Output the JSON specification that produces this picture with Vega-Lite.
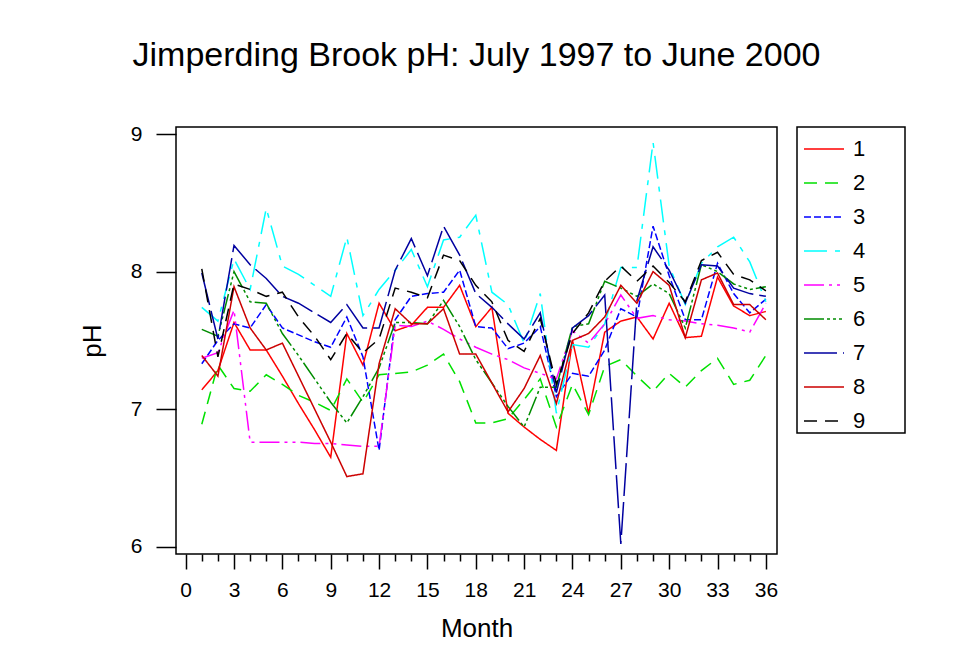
{
"$schema": "https://vega.github.io/schema/vega-lite/v6.json",
"width": 601, "height": 427,
"autosize": {"type": "none"},
"padding": {"left": 176, "top": 127, "right": 190, "bottom": 103},
"background": "white",
"title": {"text": "Jimperding Brook pH: July 1997 to June 2000", "fontSize": 34, "font": "Liberation Sans", "fontWeight": "normal", "anchor": "middle", "frame": "group", "offset": 50, "color": "black"},
"datasets": {
"ph": [
{"m":1,"s":"1","v":7.14},{"m":2,"s":"1","v":7.28},{"m":3,"s":"1","v":7.63},{"m":4,"s":"1","v":7.43},{"m":5,"s":"1","v":7.43},{"m":6,"s":"1","v":7.24},{"m":7,"s":"1","v":7.04},{"m":8,"s":"1","v":6.85},{"m":9,"s":"1","v":6.65},{"m":10,"s":"1","v":7.55},{"m":11,"s":"1","v":7.32},{"m":12,"s":"1","v":7.77},{"m":13,"s":"1","v":7.57},{"m":14,"s":"1","v":7.61},{"m":15,"s":"1","v":7.74},{"m":16,"s":"1","v":7.74},{"m":17,"s":"1","v":7.90},{"m":18,"s":"1","v":7.60},{"m":19,"s":"1","v":7.74},{"m":20,"s":"1","v":6.97},{"m":21,"s":"1","v":6.87},{"m":22,"s":"1","v":6.78},{"m":23,"s":"1","v":6.70},{"m":24,"s":"1","v":7.50},{"m":25,"s":"1","v":6.97},{"m":26,"s":"1","v":7.56},{"m":27,"s":"1","v":7.64},{"m":28,"s":"1","v":7.67},{"m":29,"s":"1","v":7.51},{"m":30,"s":"1","v":7.77},{"m":31,"s":"1","v":7.52},{"m":32,"s":"1","v":7.53},{"m":33,"s":"1","v":7.96},{"m":34,"s":"1","v":7.75},{"m":35,"s":"1","v":7.68},{"m":36,"s":"1","v":7.71},
{"m":1,"s":"2","v":6.89},{"m":2,"s":"2","v":7.32},{"m":3,"s":"2","v":7.15},{"m":4,"s":"2","v":7.13},{"m":5,"s":"2","v":7.25},{"m":6,"s":"2","v":7.18},{"m":7,"s":"2","v":7.10},{"m":8,"s":"2","v":7.05},{"m":9,"s":"2","v":6.99},{"m":10,"s":"2","v":7.22},{"m":11,"s":"2","v":7.05},{"m":12,"s":"2","v":7.25},{"m":13,"s":"2","v":7.26},{"m":14,"s":"2","v":7.27},{"m":15,"s":"2","v":7.32},{"m":16,"s":"2","v":7.40},{"m":17,"s":"2","v":7.20},{"m":18,"s":"2","v":6.90},{"m":19,"s":"2","v":6.90},{"m":20,"s":"2","v":6.93},{"m":21,"s":"2","v":7.07},{"m":22,"s":"2","v":7.22},{"m":23,"s":"2","v":6.87},{"m":24,"s":"2","v":7.18},{"m":25,"s":"2","v":6.96},{"m":26,"s":"2","v":7.31},{"m":27,"s":"2","v":7.36},{"m":28,"s":"2","v":7.24},{"m":29,"s":"2","v":7.13},{"m":30,"s":"2","v":7.26},{"m":31,"s":"2","v":7.16},{"m":32,"s":"2","v":7.28},{"m":33,"s":"2","v":7.37},{"m":34,"s":"2","v":7.18},{"m":35,"s":"2","v":7.21},{"m":36,"s":"2","v":7.39},
{"m":1,"s":"3","v":7.33},{"m":2,"s":"3","v":7.50},{"m":3,"s":"3","v":7.62},{"m":4,"s":"3","v":7.59},{"m":5,"s":"3","v":7.76},{"m":6,"s":"3","v":7.59},{"m":7,"s":"3","v":7.54},{"m":8,"s":"3","v":7.49},{"m":9,"s":"3","v":7.45},{"m":10,"s":"3","v":7.67},{"m":11,"s":"3","v":7.38},{"m":12,"s":"3","v":6.70},{"m":13,"s":"3","v":7.65},{"m":14,"s":"3","v":7.82},{"m":15,"s":"3","v":7.84},{"m":16,"s":"3","v":7.85},{"m":17,"s":"3","v":8.01},{"m":18,"s":"3","v":7.60},{"m":19,"s":"3","v":7.59},{"m":20,"s":"3","v":7.44},{"m":21,"s":"3","v":7.48},{"m":22,"s":"3","v":7.60},{"m":23,"s":"3","v":7.09},{"m":24,"s":"3","v":7.26},{"m":25,"s":"3","v":7.24},{"m":26,"s":"3","v":7.43},{"m":27,"s":"3","v":7.73},{"m":28,"s":"3","v":7.67},{"m":29,"s":"3","v":8.33},{"m":30,"s":"3","v":7.97},{"m":31,"s":"3","v":7.65},{"m":32,"s":"3","v":7.65},{"m":33,"s":"3","v":8.06},{"m":34,"s":"3","v":7.84},{"m":35,"s":"3","v":7.70},{"m":36,"s":"3","v":7.80},
{"m":1,"s":"4","v":7.74},{"m":2,"s":"4","v":7.64},{"m":3,"s":"4","v":8.09},{"m":4,"s":"4","v":7.87},{"m":5,"s":"4","v":8.46},{"m":6,"s":"4","v":8.04},{"m":7,"s":"4","v":7.98},{"m":8,"s":"4","v":7.90},{"m":9,"s":"4","v":7.82},{"m":10,"s":"4","v":8.25},{"m":11,"s":"4","v":7.68},{"m":12,"s":"4","v":7.87},{"m":13,"s":"4","v":8.01},{"m":14,"s":"4","v":8.16},{"m":15,"s":"4","v":7.89},{"m":16,"s":"4","v":8.23},{"m":17,"s":"4","v":8.25},{"m":18,"s":"4","v":8.41},{"m":19,"s":"4","v":7.85},{"m":20,"s":"4","v":7.76},{"m":21,"s":"4","v":7.48},{"m":22,"s":"4","v":7.84},{"m":23,"s":"4","v":6.97},{"m":24,"s":"4","v":7.47},{"m":25,"s":"4","v":7.45},{"m":26,"s":"4","v":7.62},{"m":27,"s":"4","v":8.03},{"m":28,"s":"4","v":8.03},{"m":29,"s":"4","v":8.94},{"m":30,"s":"4","v":8.04},{"m":31,"s":"4","v":7.76},{"m":32,"s":"4","v":8.06},{"m":33,"s":"4","v":8.18},{"m":34,"s":"4","v":8.25},{"m":35,"s":"4","v":8.07},{"m":36,"s":"4","v":7.78},
{"m":1,"s":"5","v":7.37},{"m":2,"s":"5","v":7.41},{"m":3,"s":"5","v":7.72},{"m":4,"s":"5","v":6.76},{"m":5,"s":"5","v":6.76},{"m":6,"s":"5","v":6.76},{"m":7,"s":"5","v":6.76},{"m":8,"s":"5","v":6.75},{"m":9,"s":"5","v":6.75},{"m":10,"s":"5","v":6.74},{"m":11,"s":"5","v":6.73},{"m":12,"s":"5","v":6.73},{"m":13,"s":"5","v":7.61},{"m":14,"s":"5","v":7.60},{"m":15,"s":"5","v":7.64},{"m":16,"s":"5","v":7.58},{"m":17,"s":"5","v":7.51},{"m":18,"s":"5","v":7.45},{"m":19,"s":"5","v":7.40},{"m":20,"s":"5","v":7.36},{"m":21,"s":"5","v":7.30},{"m":22,"s":"5","v":7.26},{"m":23,"s":"5","v":7.22},{"m":24,"s":"5","v":7.57},{"m":25,"s":"5","v":7.48},{"m":26,"s":"5","v":7.62},{"m":27,"s":"5","v":7.83},{"m":28,"s":"5","v":7.66},{"m":29,"s":"5","v":7.68},{"m":30,"s":"5","v":7.65},{"m":31,"s":"5","v":7.64},{"m":32,"s":"5","v":7.62},{"m":33,"s":"5","v":7.61},{"m":34,"s":"5","v":7.59},{"m":35,"s":"5","v":7.56},{"m":36,"s":"5","v":7.77},
{"m":1,"s":"6","v":7.58},{"m":2,"s":"6","v":7.53},{"m":3,"s":"6","v":8.00},{"m":4,"s":"6","v":7.78},{"m":5,"s":"6","v":7.77},{"m":6,"s":"6","v":7.55},{"m":7,"s":"6","v":7.39},{"m":8,"s":"6","v":7.22},{"m":9,"s":"6","v":7.05},{"m":10,"s":"6","v":6.90},{"m":11,"s":"6","v":7.09},{"m":12,"s":"6","v":7.30},{"m":13,"s":"6","v":7.63},{"m":14,"s":"6","v":7.63},{"m":15,"s":"6","v":7.62},{"m":16,"s":"6","v":7.79},{"m":17,"s":"6","v":7.60},{"m":18,"s":"6","v":7.36},{"m":19,"s":"6","v":7.19},{"m":20,"s":"6","v":7.02},{"m":21,"s":"6","v":6.87},{"m":22,"s":"6","v":7.16},{"m":23,"s":"6","v":7.16},{"m":24,"s":"6","v":7.60},{"m":25,"s":"6","v":7.62},{"m":26,"s":"6","v":7.93},{"m":27,"s":"6","v":7.88},{"m":28,"s":"6","v":7.82},{"m":29,"s":"6","v":7.91},{"m":30,"s":"6","v":7.84},{"m":31,"s":"6","v":7.59},{"m":32,"s":"6","v":8.05},{"m":33,"s":"6","v":8.00},{"m":34,"s":"6","v":7.91},{"m":35,"s":"6","v":7.87},{"m":36,"s":"6","v":7.89},
{"m":1,"s":"7","v":7.99},{"m":2,"s":"7","v":7.51},{"m":3,"s":"7","v":8.19},{"m":4,"s":"7","v":8.05},{"m":5,"s":"7","v":7.95},{"m":6,"s":"7","v":7.82},{"m":7,"s":"7","v":7.77},{"m":8,"s":"7","v":7.70},{"m":9,"s":"7","v":7.63},{"m":10,"s":"7","v":7.76},{"m":11,"s":"7","v":7.59},{"m":12,"s":"7","v":7.59},{"m":13,"s":"7","v":8.01},{"m":14,"s":"7","v":8.24},{"m":15,"s":"7","v":7.97},{"m":16,"s":"7","v":8.33},{"m":17,"s":"7","v":8.12},{"m":18,"s":"7","v":7.84},{"m":19,"s":"7","v":7.74},{"m":20,"s":"7","v":7.62},{"m":21,"s":"7","v":7.51},{"m":22,"s":"7","v":7.70},{"m":23,"s":"7","v":7.12},{"m":24,"s":"7","v":7.59},{"m":25,"s":"7","v":7.68},{"m":26,"s":"7","v":7.83},{"m":27,"s":"7","v":6.02},{"m":28,"s":"7","v":7.79},{"m":29,"s":"7","v":8.18},{"m":30,"s":"7","v":8.01},{"m":31,"s":"7","v":7.77},{"m":32,"s":"7","v":8.05},{"m":33,"s":"7","v":8.04},{"m":34,"s":"7","v":7.88},{"m":35,"s":"7","v":7.84},{"m":36,"s":"7","v":7.82},
{"m":1,"s":"8","v":7.39},{"m":2,"s":"8","v":7.24},{"m":3,"s":"8","v":7.89},{"m":4,"s":"8","v":7.59},{"m":5,"s":"8","v":7.43},{"m":6,"s":"8","v":7.48},{"m":7,"s":"8","v":7.24},{"m":8,"s":"8","v":7.00},{"m":9,"s":"8","v":6.76},{"m":10,"s":"8","v":6.51},{"m":11,"s":"8","v":6.53},{"m":12,"s":"8","v":7.33},{"m":13,"s":"8","v":7.73},{"m":14,"s":"8","v":7.62},{"m":15,"s":"8","v":7.62},{"m":16,"s":"8","v":7.73},{"m":17,"s":"8","v":7.40},{"m":18,"s":"8","v":7.40},{"m":19,"s":"8","v":7.19},{"m":20,"s":"8","v":6.98},{"m":21,"s":"8","v":7.15},{"m":22,"s":"8","v":7.39},{"m":23,"s":"8","v":7.04},{"m":24,"s":"8","v":7.50},{"m":25,"s":"8","v":7.55},{"m":26,"s":"8","v":7.67},{"m":27,"s":"8","v":7.90},{"m":28,"s":"8","v":7.77},{"m":29,"s":"8","v":8.00},{"m":30,"s":"8","v":7.90},{"m":31,"s":"8","v":7.52},{"m":32,"s":"8","v":7.94},{"m":33,"s":"8","v":7.99},{"m":34,"s":"8","v":7.76},{"m":35,"s":"8","v":7.76},{"m":36,"s":"8","v":7.65},
{"m":1,"s":"9","v":8.02},{"m":2,"s":"9","v":7.38},{"m":3,"s":"9","v":7.91},{"m":4,"s":"9","v":7.87},{"m":5,"s":"9","v":7.82},{"m":6,"s":"9","v":7.85},{"m":7,"s":"9","v":7.67},{"m":8,"s":"9","v":7.53},{"m":9,"s":"9","v":7.36},{"m":10,"s":"9","v":7.55},{"m":11,"s":"9","v":7.41},{"m":12,"s":"9","v":7.51},{"m":13,"s":"9","v":7.88},{"m":14,"s":"9","v":7.85},{"m":15,"s":"9","v":7.81},{"m":16,"s":"9","v":8.12},{"m":17,"s":"9","v":8.08},{"m":18,"s":"9","v":7.90},{"m":19,"s":"9","v":7.78},{"m":20,"s":"9","v":7.50},{"m":21,"s":"9","v":7.42},{"m":22,"s":"9","v":7.66},{"m":23,"s":"9","v":7.18},{"m":24,"s":"9","v":7.55},{"m":25,"s":"9","v":7.70},{"m":26,"s":"9","v":7.93},{"m":27,"s":"9","v":8.04},{"m":28,"s":"9","v":7.93},{"m":29,"s":"9","v":8.04},{"m":30,"s":"9","v":7.92},{"m":31,"s":"9","v":7.78},{"m":32,"s":"9","v":8.08},{"m":33,"s":"9","v":8.14},{"m":34,"s":"9","v":7.98},{"m":35,"s":"9","v":7.94},{"m":36,"s":"9","v":7.86}
]},
"data": {"name": "ph"},
"mark": {"type": "line", "strokeWidth": 1.5, "clip": true},
"encoding": {
"x": {"field": "m", "type": "quantitative", "scale": {"domain": [-0.6, 36.69], "nice": false, "zero": false},
 "axis": {"values": [0,1,2,3,4,5,6,7,8,9,10,11,12,13,14,15,16,17,18,19,20,21,22,23,24,25,26,27,28,29,30,31,32,33,34,35,36],
  "format": "d",
  "labelExpr": "datum.value % 3 === 0 ? datum.label : ''",
  "tickSize": {"condition": {"test": "datum.value % 3 === 0", "value": 15}, "value": 7},
  "labelPadding": 10, "title": "Month", "titleY": 61}},
"y": {"field": "v", "type": "quantitative", "scale": {"domain": [5.947, 9.051], "nice": false, "zero": false},
 "axis": {"values": [6,6.5,7,7.5,8,8.5,9],
  "format": "d",
  "labelExpr": "datum.value % 1 === 0 ? datum.label : ''",
  "tickSize": {"condition": {"test": "datum.value % 1 === 0", "value": 20}, "value": 10},
  "labelPadding": 14, "title": "pH", "titleX": -71}},
"color": {"field": "s", "type": "nominal", "scale": {"domain": ["1","2","3","4","5","6","7","8","9"], "range": ["#FF0000","#00E000","#0000FF","#00FFFF","#FF00FF","#008C00","#0000A0","#CC0000","#000000"]},
 "legend": {"orient": "none", "legendX": 621, "legendY": 0, "title": "\u2003", "titleOrient": "right"}},
"strokeDash": {"field": "s", "type": "nominal", "scale": {"domain": ["1","2","3","4","5","6","7","8","9"], "range": [[1,0],[13,8],[7,3],[23,8,5,8],[20,5,3,5,3,5],[20,3,3,3,3,3,3,3],[33,6],[1,0],[13,8]]},
 "legend": {"orient": "none", "legendX": 621, "legendY": 0, "title": "\u2003", "titleOrient": "right"}}
},
"config": {
"font": "Liberation Sans",
"view": {"stroke": "black", "strokeWidth": 1.5},
"axis": {"domain": false, "grid": false, "tickColor": "black", "tickWidth": 1.5, "labelColor": "black", "labelFontSize": 21, "labelFont": "Liberation Sans", "labelFlush": false, "labelOverlap": false, "titleFontSize": 26, "titleFontWeight": "normal", "titleColor": "black", "titleFont": "Liberation Sans"},
"legend": {"strokeColor": "black", "strokeWidth": 1.5, "padding": 1, "symbolType": "stroke", "symbolSize": 1600, "symbolStrokeWidth": 1.5, "symbolOffset": 5, "labelFontSize": 22, "labelColor": "black", "labelFont": "Liberation Sans", "labelOffset": 8, "rowPadding": 2, "titleFontSize": 22, "titlePadding": 39, "titleColor": "white", "fillColor": "white"}
}
}
